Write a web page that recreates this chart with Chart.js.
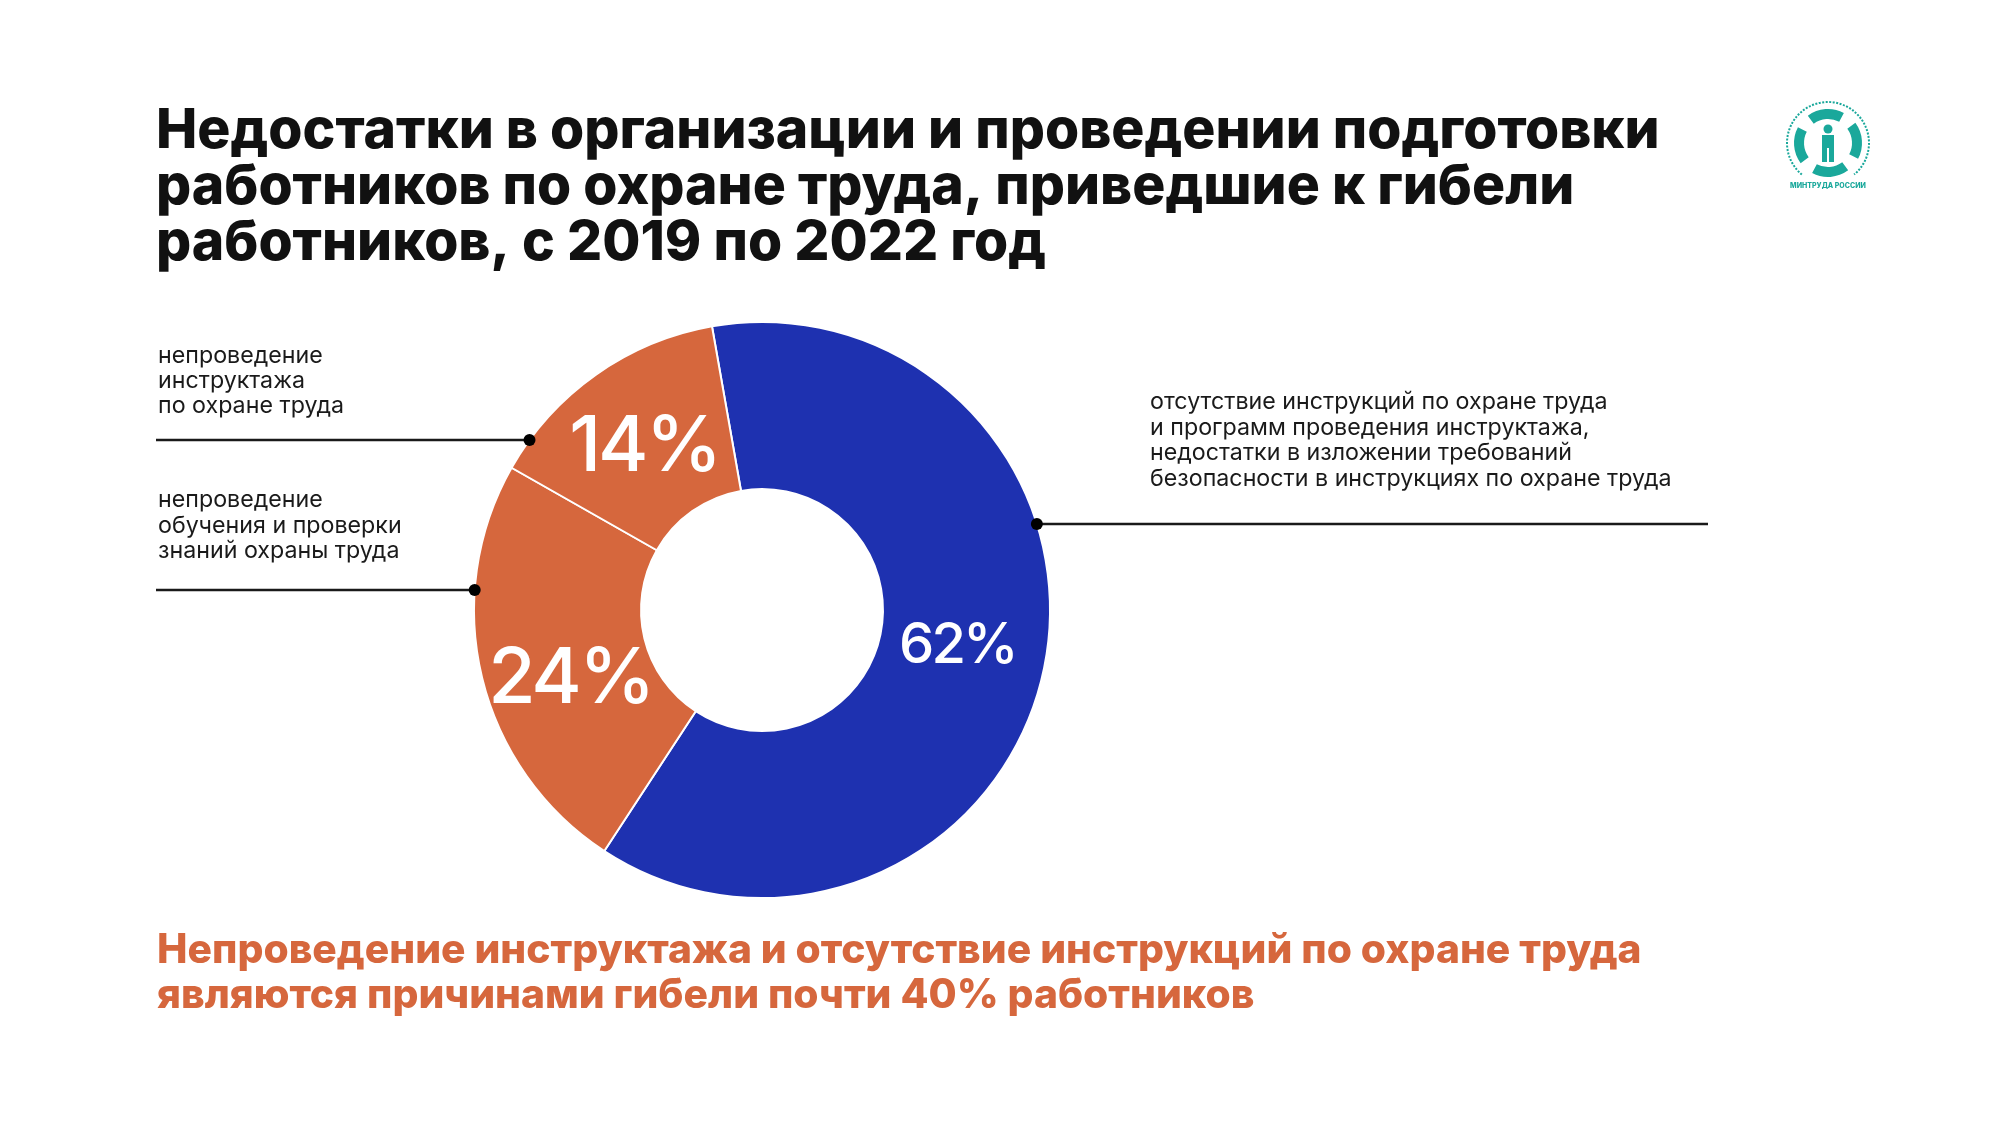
<!DOCTYPE html>
<html lang="ru">
<head>
<meta charset="UTF-8">
<title>Недостатки в подготовке работников по охране труда</title>
<script src="https://cdn.jsdelivr.net/npm/chart.js"></script>
<style>
  html, body { margin: 0; padding: 0; background: #fff; overflow: hidden; }
  canvas { display: block; }
</style>
</head>
<body>
<canvas id="chart" width="2000" height="1125"></canvas>
<script>
// data
const categories = [
  'отсутствие инструкций по охране труда и программ проведения инструктажа, недостатки в изложении требований безопасности в инструкциях по охране труда',
  'непроведение обучения и проверки знаний охраны труда',
  'непроведение инструктажа по охране труда'
];
const shares = [62, 24, 14];
const categoryLines = [
  ['отсутствие инструкций по охране труда', 'и программ проведения инструктажа,', 'недостатки в изложении требований', 'безопасности в инструкциях по охране труда'],
  ['непроведение', 'обучения и проверки', 'знаний охраны труда'],
  ['непроведение', 'инструктажа', 'по охране труда']
];
const titleLines = [
  'Недостатки в организации и проведении подготовки',
  'работников по охране труда, приведшие к гибели',
  'работников, с 2019 по 2022 год'
];
const noteLines = [
  'Непроведение инструктажа и отсутствие инструкций по охране труда',
  'являются причинами гибели почти 40% работников'
];

const BLUE = '#1E31B0';
const ORANGE = '#D6673D';
const TEAL = '#1AA89B';
const FONT = 'Inter, "Open Sans", sans-serif';

// where each callout sits (index matches categories)
const callouts = [
  { side: 'right', lineY: 524, lineEnd: 1708, textX: 1150, baselines: [409, 435, 460, 486] },
  { side: 'left', lineY: 590, lineEnd: 156, textX: 158, baselines: [507, 533, 558] },
  { side: 'left', lineY: 440, lineEnd: 156, textX: 158, baselines: [363, 388, 413] }
];
// percent label size and small shift from the slice centroid
const pctStyle = [
  { size: 56, dx: -5, dy: -8 },
  { size: 77, dx: 7, dy: 17 },
  { size: 77, dx: 0, dy: 0 }
];

function fitSize(ctx, text, weight, width) {
  ctx.font = weight + ' 100px ' + FONT;
  return 100 * width / ctx.measureText(text).width;
}

function drawLogo(ctx, x, y) {
  ctx.save();
  ctx.strokeStyle = TEAL;
  ctx.fillStyle = TEAL;
  // hands ring
  ctx.lineWidth = 10;
  for (let k = 0; k < 4; k++) {
    const a = k * Math.PI / 2 - Math.PI / 4;
    ctx.beginPath();
    ctx.arc(x, y, 29, a + 0.15, a + Math.PI / 2 - 0.3);
    ctx.stroke();
  }
  // circular lettering
  ctx.lineWidth = 2;
  ctx.setLineDash([2, 1.5]);
  ctx.beginPath();
  ctx.arc(x, y, 41, Math.PI * 0.72, Math.PI * 2.28);
  ctx.stroke();
  ctx.setLineDash([]);
  // figure
  ctx.beginPath();
  ctx.arc(x, y - 14, 4.5, 0, Math.PI * 2);
  ctx.fill();
  ctx.fillRect(x - 6, y - 8, 12, 13);
  ctx.fillRect(x - 6, y + 5, 5, 14);
  ctx.fillRect(x + 1, y + 5, 5, 14);
  ctx.font = '800 7px ' + FONT;
  ctx.textAlign = 'center';
  ctx.fillText('МИНТРУДА РОССИИ', x, y + 45);
  ctx.restore();
}

const slideText = {
  id: 'slideText',
  afterDraw(chart) {
    const ctx = chart.ctx;
    const arcs = chart.getDatasetMeta(0).data;
    const cx = arcs[0].x, cy = arcs[0].y, R = arcs[0].outerRadius;
    ctx.save();
    ctx.textAlign = 'left';
    ctx.textBaseline = 'alphabetic';

    // title
    const ts = fitSize(ctx, titleLines[0], '800', 1504);
    ctx.font = '800 ' + ts + 'px ' + FONT;
    ctx.fillStyle = '#111111';
    [148, 204, 260].forEach((b, i) => ctx.fillText(titleLines[i], 156, b));

    // bottom note
    const ns = fitSize(ctx, noteLines[0], '800', 1485);
    ctx.font = '800 ' + ns + 'px ' + FONT;
    ctx.fillStyle = ORANGE;
    [963, 1008].forEach((b, i) => ctx.fillText(noteLines[i], 157, b));

    // callouts
    const ls = fitSize(ctx, categoryLines[0][3], '400', 522);
    callouts.forEach((c, i) => {
      ctx.font = '400 ' + ls + 'px ' + FONT;
      ctx.fillStyle = '#1a1a1a';
      categoryLines[i].forEach((t, j) => ctx.fillText(t, c.textX, c.baselines[j]));
      const dx = Math.sqrt(Math.max(R * R - (c.lineY - cy) * (c.lineY - cy), 0));
      const px = c.side === 'right' ? cx + dx : cx - dx;
      ctx.strokeStyle = '#1a1a1a';
      ctx.lineWidth = 2.5;
      ctx.beginPath();
      ctx.moveTo(px, c.lineY);
      ctx.lineTo(c.lineEnd, c.lineY);
      ctx.stroke();
      ctx.fillStyle = '#000';
      ctx.beginPath();
      ctx.arc(px, c.lineY, 6, 0, Math.PI * 2);
      ctx.fill();
    });

    // percentages inside the ring
    ctx.textAlign = 'center';
    ctx.fillStyle = '#ffffff';
    ctx.letterSpacing = '-3px';
    arcs.forEach((arc, i) => {
      const p = arc.tooltipPosition();
      const s = pctStyle[i];
      ctx.font = '500 ' + s.size + 'px ' + FONT;
      ctx.fillText(shares[i] + '%', p.x + s.dx, p.y + s.dy + s.size * 0.36);
    });
    ctx.letterSpacing = '0px';

    drawLogo(ctx, 1828, 143);
    ctx.restore();
  }
};

new Chart(document.getElementById('chart').getContext('2d'), {
  type: 'doughnut',
  data: {
    labels: categories,
    datasets: [{
      data: shares,
      backgroundColor: [BLUE, ORANGE, ORANGE],
      borderColor: '#ffffff',
      borderWidth: 2
    }]
  },
  options: {
    responsive: false,
    devicePixelRatio: 1,
    animation: false,
    rotation: -10,
    radius: 288,
    cutout: '42%',
    layout: { padding: { left: 474, right: 950, top: 322, bottom: 227 } },
    plugins: {
      legend: { display: false },
      tooltip: { enabled: false }
    }
  },
  plugins: [slideText]
});
</script>
</body>
</html>
